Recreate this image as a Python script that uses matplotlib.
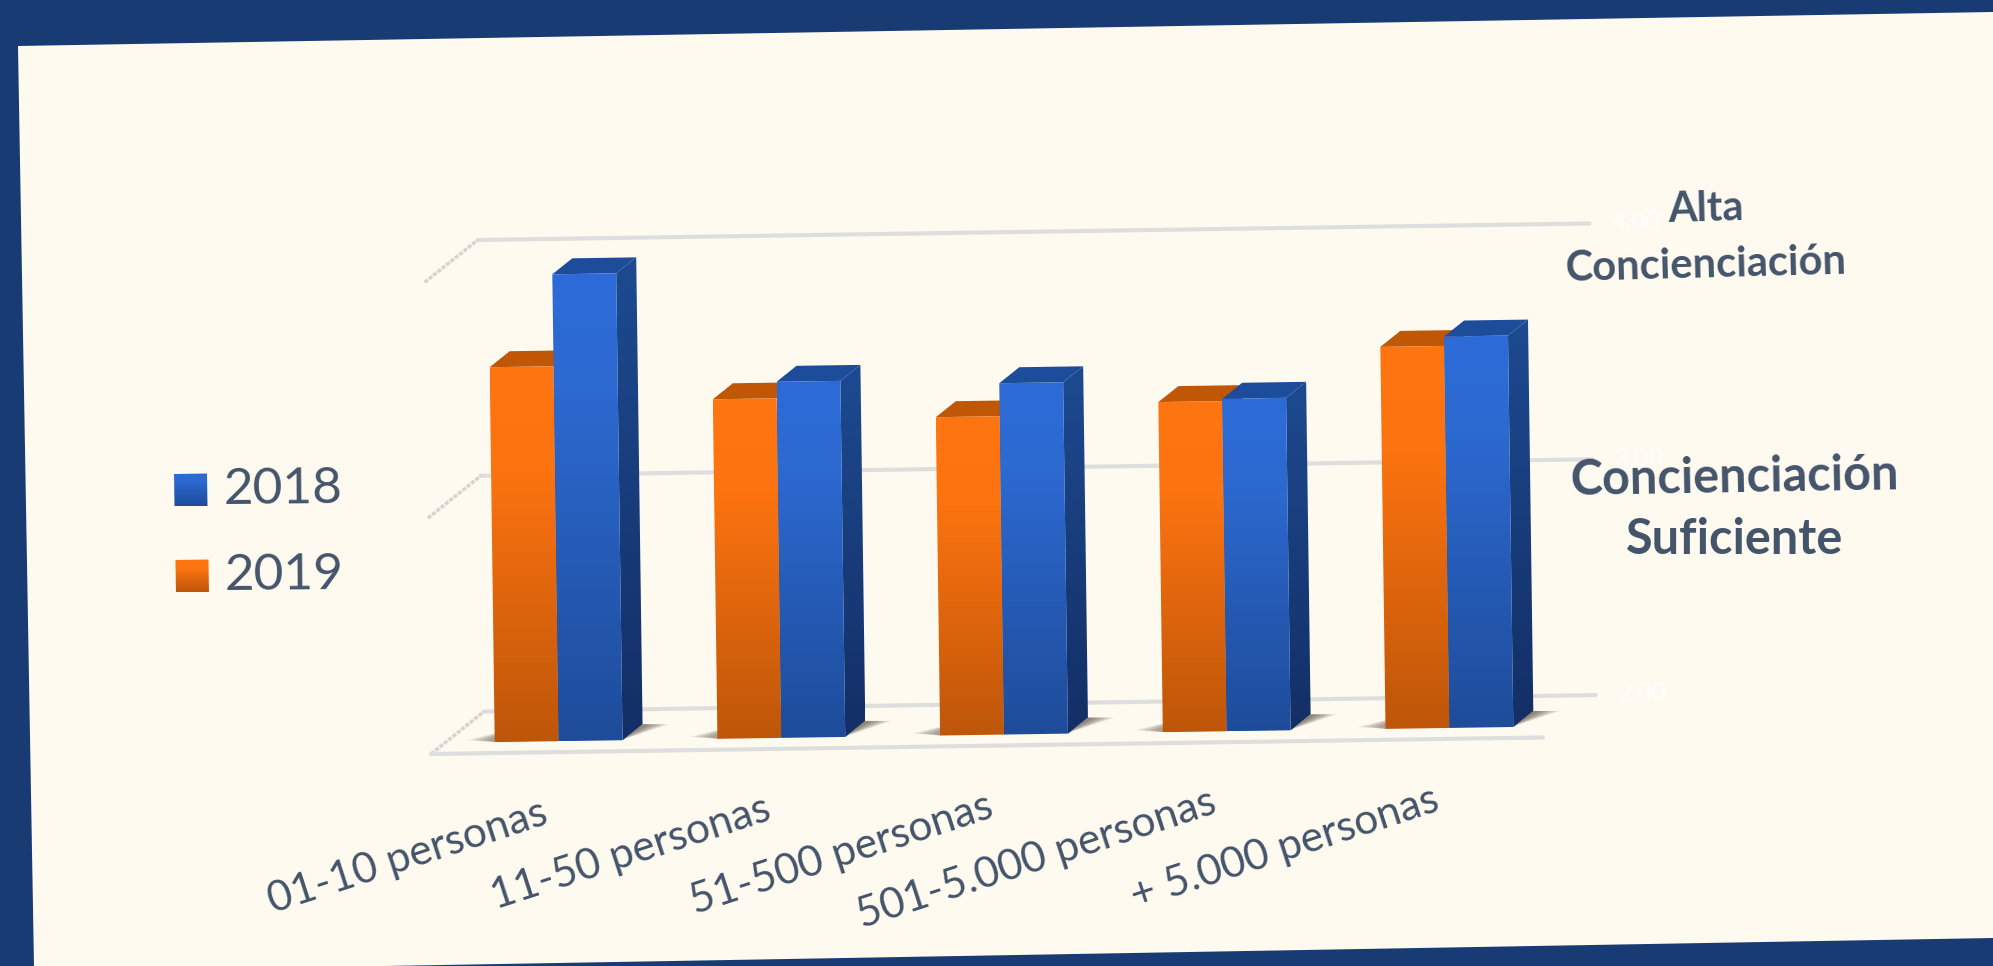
import numpy as np
import matplotlib
matplotlib.use("Agg")
import matplotlib.pyplot as plt
from matplotlib.colors import LinearSegmentedColormap
from matplotlib.patches import Polygon

plt.rcParams['font.family'] = ['Lato', 'DejaVu Sans']

# datos
categorias = ['01-10 personas', '11-50 personas', '51-500 personas', '501-5.000 personas', '+ 5.000 personas']
valores_2018 = [3.98, 3.51, 3.49, 3.41, 3.66]
valores_2019 = [3.59, 3.44, 3.35, 3.40, 3.62]
niveles = [2, 3, 4]
etiquetas_niveles = ['2,00', '3,00', '4,00']

W, H = 1993, 966
AZUL_TEXTO = '#44546A'

# proyeccion falsa 3D: x en anchos de barra, v en valor, d en profundidad
O = np.array([431.0, 754.0])
UX = np.array([63.9, -0.95])
UV = np.array([-3.2, -235.8])
UD = np.array([20.0, -16.0])
V0 = 2
PARED = 2.65
SUELO = 17.4


def pt(x, v, d=0):
    return O + x * UX + (v - V0) * UV + d * UD


fig = plt.figure(figsize=(W / 100, H / 100), dpi=100, facecolor='#193B73')
ax = fig.add_axes([0, 0, 1, 1])
ax.set_xlim(0, W)
ax.set_ylim(H, 0)
ax.axis('off')

# panel crema inclinado
ax.add_patch(Polygon([(18, 46), (W, 12), (W, 938), (385, 966), (34, 966)], closed=True,
                     facecolor='#FFFAF0', edgecolor='none', zorder=0))

cm_naranja = LinearSegmentedColormap.from_list('n', [(0, '#FF7510'), (0.28, '#FC7310'), (1, '#BE5609')])
cm_azul = LinearSegmentedColormap.from_list('a', [(0, '#2D6CD8'), (0.25, '#2C69D0'), (1, '#1E4C9A')])
cm_lado = LinearSegmentedColormap.from_list('l', [(0, '#1D4A90'), (1, '#132F66')])

z = [3]


def cara(esquinas, cmap):
    # cara con degradado vertical recortada al poligono
    esquinas = np.array(esquinas)
    x0, y0 = esquinas.min(axis=0)
    x1, y1 = esquinas.max(axis=0)
    grad = np.linspace(0, 1, 256).reshape(-1, 1)
    im = ax.imshow(grad, cmap=cmap, extent=(x0, x1, y1, y0), aspect='auto', origin='upper',
                   interpolation='bilinear', zorder=z[0])
    im.set_clip_path(Polygon(esquinas, closed=True, transform=ax.transData))
    z[0] += 1


def plano(esquinas, color):
    ax.add_patch(Polygon(esquinas, closed=True, facecolor=color, edgecolor='none', zorder=z[0]))
    z[0] += 1


def barra(x, v, cmap, color_tapa):
    d0, d1 = 0.695, 1.695
    cara([pt(x + 1, V0, d0), pt(x + 1, V0, d1), pt(x + 1, v, d1), pt(x + 1, v, d0)], cm_lado)
    plano([pt(x, v, d0), pt(x + 1, v, d0), pt(x + 1, v, d1), pt(x, v, d1)], color_tapa)
    cara([pt(x, V0, d0), pt(x + 1, V0, d0), pt(x + 1, v, d0), pt(x, v, d0)], cmap)


def sombra(x):
    d0, d1 = 0.695, 1.695
    for k in range(1, 7):
        f = k / 6
        a = pt(x + 2, V0, d0)
        b = pt(x + 2, V0, d1)
        ax.add_patch(Polygon([a, b, b + (24 * f + 2, 0.0), a + (4 * f, -2)], closed=True,
                             facecolor='#3A3020', alpha=0.13, edgecolor='none', zorder=2))
        c = pt(x, V0, d0)
        e = pt(x, V0, d0 + 0.8)
        ax.add_patch(Polygon([c, e, c + (-26 * f - 2, -2)], closed=True,
                             facecolor='#3A3020', alpha=0.09, edgecolor='none', zorder=2))


# rejilla de fondo y pared lateral
for v in niveles:
    xs, ys = zip(pt(0, v, PARED), pt(SUELO, v, PARED))
    ax.plot(xs, ys, color='#DEDEDC', lw=3, solid_capstyle='round', zorder=1)
    xs, ys = zip(pt(0, v, 0), pt(0, v, PARED))
    ax.plot(xs, ys, color='#D4D4D2', lw=2.5, ls=(0, (1.2, 0.4)), zorder=1)
xs, ys = zip(pt(0, V0, 0), pt(SUELO, V0, 0))
ax.plot(xs, ys, color='#DEDEDC', lw=3, solid_capstyle='round', zorder=1)

for v, txt in zip(niveles, etiquetas_niveles):
    p = pt(SUELO, v, PARED)
    ax.text(p[0] + 22, p[1] - 2, txt, color='white', fontsize=18, ha='left', va='center', rotation=1, zorder=2)

# etiquetas de categoria
for i, cat in enumerate(categorias):
    p = pt(0.78 + i * 3.485 + 2, V0, 0)
    ax.text(p[0] - 68, p[1] + 42, cat, color=AZUL_TEXTO, fontsize=30.5, rotation=18,
            rotation_mode='anchor', ha='right', va='top', zorder=50)

# barras
for i, (v19, v18) in enumerate(zip(valores_2019, valores_2018)):
    x = 0.78 + i * 3.485
    sombra(x)
    barra(x, v19, cm_naranja, '#BF5707')
    barra(x + 1, v18, cm_azul, '#1C4C9A')

# leyenda
for y, cmap, txt in [(490, cm_azul, '2018'), (576, cm_naranja, '2019')]:
    x = 174 + (y - 490) * 0.017
    cara([(x, y - 16), (x + 33, y - 16.5), (x + 33.5, y + 16), (x + 0.5, y + 16.5)], cmap)
    ax.text(x + 49, y - 1, txt, color=AZUL_TEXTO, fontsize=37, ha='left', va='center', rotation=0.5, zorder=50)

# notas de la derecha
ax.text(1706, 209, 'Alta', color=AZUL_TEXTO, fontsize=30, fontweight='bold', ha='center', va='center', rotation=1.5, zorder=50)
ax.text(1706, 265, 'Concienciación', color=AZUL_TEXTO, fontsize=30, fontweight='bold', ha='center', va='center', rotation=1.5, zorder=50)
ax.text(1734, 478, 'Concienciación', color=AZUL_TEXTO, fontsize=35, fontweight='bold', ha='center', va='center', rotation=1, zorder=50)
ax.text(1735, 540, 'Suficiente', color=AZUL_TEXTO, fontsize=35, fontweight='bold', ha='center', va='center', rotation=0, zorder=50)

fig.savefig('out.png', dpi=100, facecolor=fig.get_facecolor())
